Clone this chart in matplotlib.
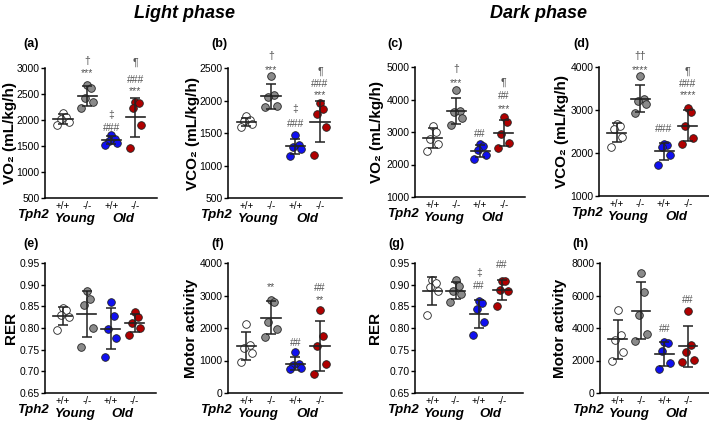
import matplotlib
matplotlib.use("Agg")
import matplotlib.pyplot as plt
import matplotlib.transforms as mtransforms
import numpy as np

plt.rcParams['font.family'] = ['Liberation Sans', 'DejaVu Sans']

# group order: young +/+, young -/-, old +/+, old -/-
geno_labels = ['+/+', '-/-', '+/+', '-/-']
group_colors = ['white', '#8a8a8a', '#1010f0', '#b00000']

vo2_light = [[2140, 2060, 2020, 1960, 1900],
             [2680, 2620, 2420, 2340, 2230],
             [1720, 1640, 1600, 1560, 1520],
             [2350, 2330, 2230, 1900, 1460]]
vco2_light = [[1760, 1700, 1680, 1640, 1600],
              [2380, 2080, 2050, 1920, 1900],
              [1470, 1320, 1290, 1250, 1150],
              [1960, 1870, 1790, 1600, 1160]]
vo2_dark = [[3200, 3000, 2780, 2620, 2420],
            [4300, 3660, 3620, 3430, 3230],
            [2620, 2580, 2460, 2280, 2180],
            [3450, 3300, 2950, 2650, 2500]]
vco2_dark = [[2680, 2620, 2560, 2380, 2130],
             [3800, 3250, 3200, 3150, 2930],
             [2200, 2190, 2130, 1960, 1720],
             [3040, 2950, 2620, 2360, 2200]]
rer_light = [[0.846, 0.842, 0.830, 0.826, 0.795],
             [0.885, 0.866, 0.852, 0.800, 0.757],
             [0.859, 0.828, 0.797, 0.777, 0.733],
             [0.836, 0.826, 0.811, 0.801, 0.784]]
motor_light = [[2130, 1480, 1400, 1240, 960],
               [2870, 2800, 2180, 1980, 1720],
               [1250, 900, 850, 780, 750],
               [2540, 1740, 1440, 900, 600]]
rer_dark = [[0.910, 0.905, 0.895, 0.886, 0.830],
            [0.910, 0.897, 0.886, 0.878, 0.860],
            [0.862, 0.858, 0.845, 0.815, 0.785],
            [0.909, 0.908, 0.887, 0.885, 0.850]]
motor_dark = [[5130, 3550, 3250, 2550, 2000],
              [7400, 6200, 4800, 3650, 3200],
              [3150, 3050, 2580, 1830, 1500],
              [5020, 2930, 2550, 2010, 1900]]

# significance marks per group: list of (text, y value)
marks_a = {1: [('***', 2900), ('†', 3130)], 2: [('###', 1840), ('‡', 2090)],
           3: [('***', 2560), ('###', 2770), ('¶', 3110)]}
marks_b = {1: [('***', 2470), ('†', 2680)], 2: [('###', 1640), ('‡', 1870)],
           3: [('***', 2080), ('###', 2250), ('¶', 2450)]}
marks_c = {1: [('***', 4520), ('†', 4930)], 2: [('##', 2950)],
           3: [('***', 3720), ('##', 4100), ('¶', 4530)]}
marks_d = {1: [('****', 3920), ('††', 4260)], 2: [('###', 2550)],
           3: [('****', 3340), ('###', 3600), ('¶', 3900)]}
marks_f = {1: [('**', 3250)], 2: [('##', 1550)],
           3: [('**', 2850), ('##', 3220)]}
marks_g = {2: [('##', 0.896), ('‡', 0.927)], 3: [('##', 0.946)]}
marks_h = {2: [('##', 3950)], 3: [('##', 5700)]}

panels = [
    ('(a)', 'VO₂ (mL/kg/h)', vo2_light, (500, 3000), 500, marks_a, '{:.0f}'),
    ('(b)', 'VCO₂ (mL/kg/h)', vco2_light, (500, 2500), 500, marks_b, '{:.0f}'),
    ('(c)', 'VO₂ (mL/kg/h)', vo2_dark, (1000, 5000), 1000, marks_c, '{:.0f}'),
    ('(d)', 'VCO₂ (mL/kg/h)', vco2_dark, (1000, 4000), 1000, marks_d, '{:.0f}'),
    ('(e)', 'RER', rer_light, (0.65, 0.95), 0.05, {}, '{:.2f}'),
    ('(f)', 'Motor activity', motor_light, (0, 4000), 1000, marks_f, '{:.0f}'),
    ('(g)', 'RER', rer_dark, (0.65, 0.95), 0.05, marks_g, '{:.2f}'),
    ('(h)', 'Motor activity', motor_dark, (0, 8000), 2000, marks_h, '{:.0f}'),
]

W, H = 709, 421
# axes boxes in pixels: left, right, top, bottom
boxes = [(45, 157, 68, 198), (228, 342, 68, 198), (415, 525, 67, 197), (599, 709, 67, 196),
         (45, 156, 263, 393), (228, 342, 263, 393), (415, 523, 263, 393), (600, 709, 263, 393)]
label_pos = [(23, 44), (211, 44), (387, 44), (573, 44), (23, 244), (211, 244), (388, 244), (572, 244)]
ylabel_off = [28, 28, 31, 30, 27, 30, 33, 33]
jitter = [-0.24, 0.24, -0.1, 0.14, 0.0]

fig = plt.figure(figsize=(W / 100, H / 100), dpi=100)

for (lab, ylab, data, ylim, step, marks, fmt), (l, r, t, b), (lx, ly), off in zip(
        panels, boxes, label_pos, ylabel_off):
    ax = fig.add_axes([l / W, 1 - b / H, (r - l) / W, (b - t) / H])
    for i, vals in enumerate(data):
        vals = np.array(vals)
        order = np.argsort(vals)
        xs = np.zeros(len(vals))
        xs[order] = i + np.array(jitter)
        ax.plot(xs, vals, 'o', ms=5.5, mfc=group_colors[i], mec='#222222', mew=0.6,
                zorder=3, clip_on=False)
        m, sd = vals.mean(), vals.std(ddof=1)
        ax.plot([i - 0.4, i + 0.4], [m, m], color='#222222', lw=1.2, zorder=4)
        ax.errorbar(i, m, yerr=sd, fmt='none', ecolor='#222222', elinewidth=1.1,
                    capsize=3.5, capthick=1.1, zorder=4)
    for i, lst in marks.items():
        for txt, yv in lst:
            ax.text(i, yv, txt, ha='center', va='center', fontsize=7.5, color='#555555',
                    clip_on=False)
    ax.set_xlim(-0.75, 3.9)
    ax.set_ylim(*ylim)
    ticks = np.arange(ylim[0], ylim[1] + step / 2, step)
    ax.set_yticks(ticks, [fmt.format(v) for v in ticks])
    ax.set_xticks(range(4), geno_labels)
    ax.tick_params(axis='x', length=0, labelsize=7, pad=2)
    ax.tick_params(axis='y', length=3, width=1, labelsize=7.5, pad=1)
    for s in ['top', 'right']:
        ax.spines[s].set_visible(False)
    for s in ['left', 'bottom']:
        ax.spines[s].set_linewidth(1.1)
    ax.set_ylabel(ylab, fontsize=11, fontweight='bold')
    ax.yaxis.set_label_coords(-off / (r - l), 0.5)
    tr = mtransforms.blended_transform_factory(ax.transData, ax.transAxes)
    ax.text(-0.6, -0.13, 'Tph2', transform=tr, ha='right', va='center', fontsize=9.5,
            fontweight='bold', fontstyle='italic')
    ax.text(0.5, -0.165, 'Young', transform=tr, ha='center', va='center', fontsize=9.5,
            fontweight='bold', fontstyle='italic')
    ax.text(2.5, -0.165, 'Old', transform=tr, ha='center', va='center', fontsize=9.5,
            fontweight='bold', fontstyle='italic')
    fig.text(lx / W, 1 - ly / H, lab, ha='left', va='center', fontsize=9, fontweight='bold')

fig.text(185 / W, 1 - 13 / H, 'Light phase', ha='center', va='center', fontsize=13,
         fontweight='bold', fontstyle='italic')
fig.text(538 / W, 1 - 13 / H, 'Dark phase', ha='center', va='center', fontsize=13,
         fontweight='bold', fontstyle='italic')

fig.savefig('out.png', dpi=100)
